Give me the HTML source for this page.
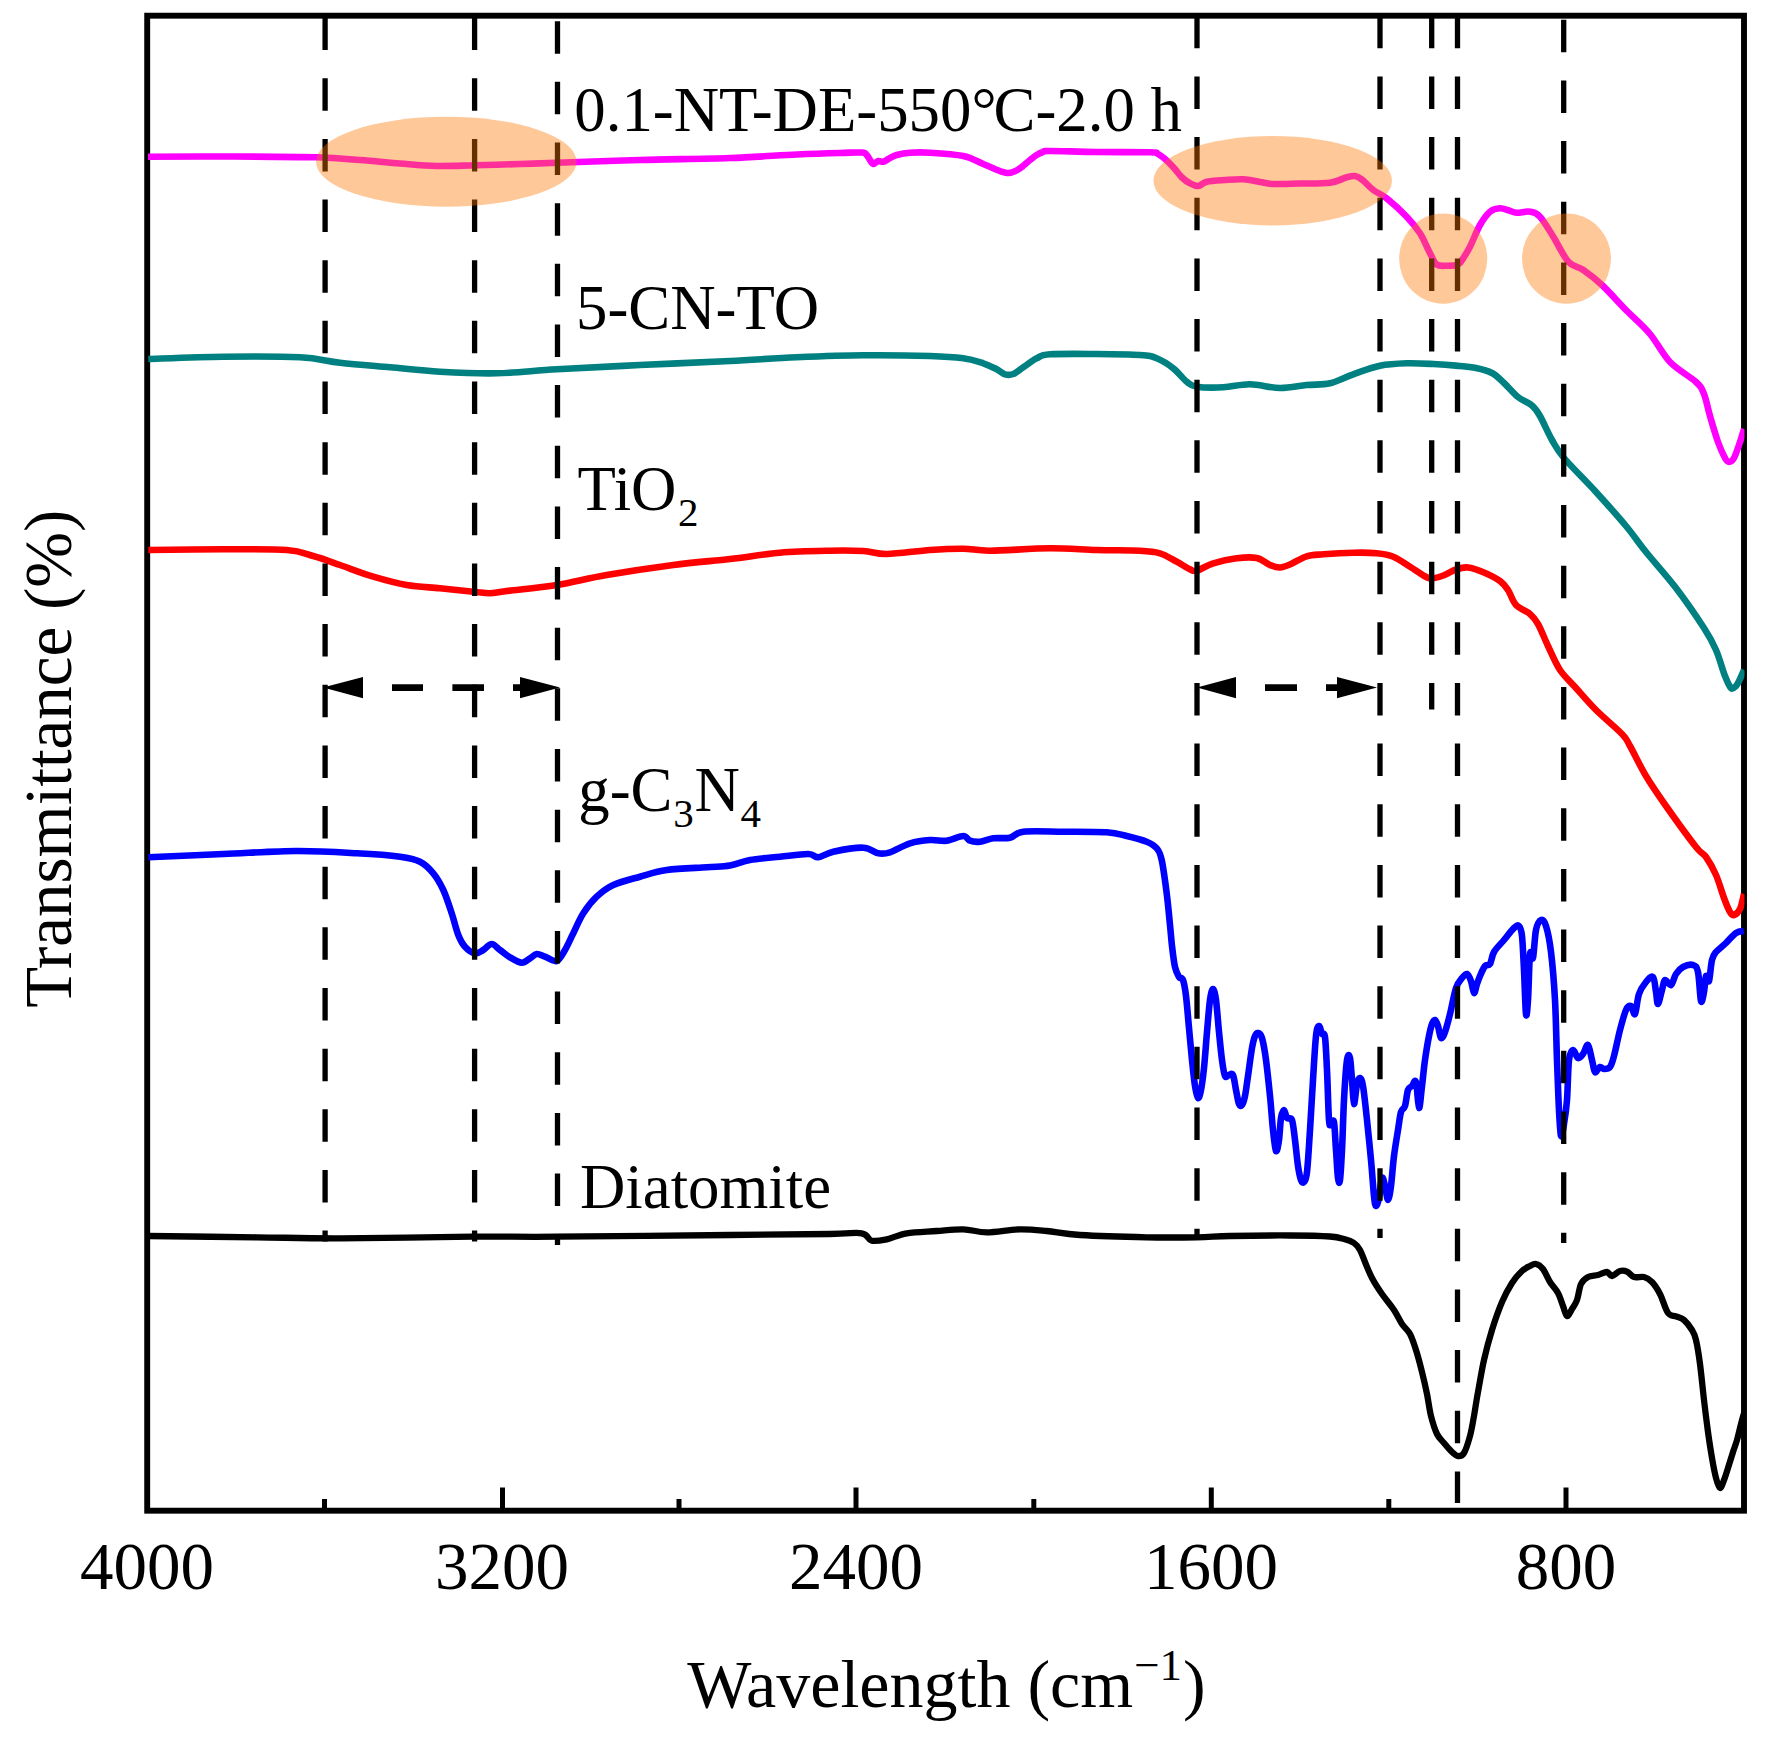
<!DOCTYPE html>
<html lang="en"><head><meta charset="utf-8"><title>FTIR spectra</title>
<style>html,body{margin:0;padding:0;background:#fff}svg{display:block}text{font-family:"Liberation Serif","Noto Serif CJK SC",serif;fill:#000}</style></head><body>
<svg width="1770" height="1739" viewBox="0 0 1770 1739">
<rect width="1770" height="1739" fill="#fff"/>
<defs><clipPath id="cp"><rect x="146.7" y="15.7" width="1597.8" height="1495"/></clipPath></defs>
<g stroke="#000" stroke-width="5.9" fill="none">
<rect x="147.2" y="15.7" width="1596.8" height="1495"/>
</g>
<g stroke="#000" stroke-width="5" fill="none">
<line x1="502.5" y1="1510.7" x2="502.5" y2="1487.5"/>
<line x1="856" y1="1510.7" x2="856" y2="1487.5"/>
<line x1="1211.3" y1="1510.7" x2="1211.3" y2="1487.5"/>
<line x1="1566" y1="1510.7" x2="1566" y2="1487.5"/>
<line x1="324.5" y1="1510.7" x2="324.5" y2="1499"/>
<line x1="679" y1="1510.7" x2="679" y2="1499"/>
<line x1="1033.8" y1="1510.7" x2="1033.8" y2="1499"/>
<line x1="1388.8" y1="1510.7" x2="1388.8" y2="1499"/>
</g>
<g fill="none" stroke-linejoin="round" stroke-linecap="butt" clip-path="url(#cp)">
<path d="M148.0 1236.0C166.1 1236.2 224.7 1236.9 256.7 1237.3C288.7 1237.7 303.9 1238.4 340.0 1238.3C376.1 1238.2 436.9 1237.0 473.0 1236.7C509.1 1236.4 513.9 1237.0 556.7 1236.7C599.5 1236.4 684.5 1235.5 730.0 1235.0C775.5 1234.5 808.0 1234.3 830.0 1234.0C852.0 1233.7 854.8 1232.2 861.7 1233.3C868.7 1234.4 867.5 1239.7 871.7 1240.7C875.9 1241.7 880.9 1240.5 886.7 1239.3C892.5 1238.1 898.4 1234.7 906.7 1233.3C915.0 1231.9 927.3 1231.7 936.7 1231.0C946.1 1230.3 955.0 1229.1 963.3 1229.3C971.6 1229.5 977.2 1232.3 986.7 1232.3C996.2 1232.3 1010.0 1229.5 1020.0 1229.3C1030.0 1229.1 1036.7 1230.0 1046.7 1231.0C1056.7 1232.0 1063.3 1234.0 1080.0 1235.0C1096.7 1236.0 1127.2 1236.9 1146.7 1237.3C1166.2 1237.7 1182.8 1237.5 1196.7 1237.3C1210.6 1237.1 1214.5 1236.3 1230.0 1236.0C1245.5 1235.7 1273.3 1235.4 1290.0 1235.5C1306.7 1235.6 1321.0 1235.9 1330.0 1236.5C1339.0 1237.1 1340.0 1237.9 1344.0 1239.0C1348.0 1240.1 1351.3 1241.2 1354.0 1243.0C1356.7 1244.8 1358.2 1246.8 1360.0 1250.0C1361.8 1253.2 1363.0 1257.3 1365.0 1262.0C1367.0 1266.7 1369.2 1272.7 1372.0 1278.0C1374.8 1283.3 1378.3 1288.7 1382.0 1294.0C1385.7 1299.3 1390.7 1305.0 1394.0 1310.0C1397.3 1315.0 1399.3 1320.0 1402.0 1324.0C1404.7 1328.0 1407.7 1329.7 1410.0 1334.0C1412.3 1338.3 1414.0 1343.7 1416.0 1350.0C1418.0 1356.3 1420.2 1364.7 1422.0 1372.0C1423.8 1379.3 1425.5 1386.7 1427.0 1394.0C1428.5 1401.3 1429.3 1409.3 1431.0 1416.0C1432.7 1422.7 1434.8 1429.5 1437.0 1434.0C1439.2 1438.5 1441.5 1440.0 1444.0 1443.0C1446.5 1446.0 1449.7 1449.8 1452.0 1452.0C1454.3 1454.2 1456.0 1455.8 1458.0 1456.0C1460.0 1456.2 1462.0 1456.3 1464.0 1453.0C1466.0 1449.7 1468.3 1442.2 1470.0 1436.0C1471.7 1429.8 1472.7 1423.3 1474.0 1416.0C1475.3 1408.7 1476.3 1401.3 1478.0 1392.0C1479.7 1382.7 1481.7 1370.3 1484.0 1360.0C1486.3 1349.7 1489.0 1339.7 1492.0 1330.0C1495.0 1320.3 1498.7 1309.8 1502.0 1302.0C1505.3 1294.2 1508.7 1288.2 1512.0 1283.0C1515.3 1277.8 1519.0 1273.8 1522.0 1271.0C1525.0 1268.2 1527.7 1267.2 1530.0 1266.0C1532.3 1264.8 1533.8 1263.5 1536.0 1264.0C1538.2 1264.5 1540.7 1266.0 1543.0 1269.0C1545.3 1272.0 1547.5 1278.0 1550.0 1282.0C1552.5 1286.0 1555.8 1289.0 1558.0 1293.0C1560.2 1297.0 1561.5 1302.2 1563.0 1306.0C1564.5 1309.8 1565.5 1315.5 1567.0 1316.0C1568.5 1316.5 1570.3 1311.7 1572.0 1309.0C1573.7 1306.3 1575.5 1304.2 1577.0 1300.0C1578.5 1295.8 1579.2 1287.8 1581.0 1284.0C1582.8 1280.2 1585.2 1278.5 1588.0 1277.0C1590.8 1275.5 1594.8 1275.8 1598.0 1275.0C1601.2 1274.2 1604.7 1271.8 1607.0 1272.0C1609.3 1272.2 1609.8 1276.2 1612.0 1276.0C1614.2 1275.8 1617.5 1271.7 1620.0 1271.0C1622.5 1270.3 1624.7 1270.6 1627.0 1271.6C1629.3 1272.6 1631.2 1276.1 1634.0 1277.0C1636.8 1277.9 1641.0 1276.2 1644.0 1277.0C1647.0 1277.8 1649.3 1279.2 1652.0 1282.0C1654.7 1284.8 1657.3 1288.8 1660.0 1294.0C1662.7 1299.2 1665.3 1309.3 1668.0 1313.0C1670.7 1316.7 1673.3 1315.2 1676.0 1316.4C1678.7 1317.6 1681.3 1317.7 1684.0 1320.0C1686.7 1322.3 1690.0 1326.7 1692.0 1330.0C1694.0 1333.3 1694.7 1334.3 1696.0 1340.0C1697.3 1345.7 1698.7 1354.0 1700.0 1364.0C1701.3 1374.0 1702.7 1388.7 1704.0 1400.0C1705.3 1411.3 1706.7 1422.3 1708.0 1432.0C1709.3 1441.7 1710.7 1450.3 1712.0 1458.0C1713.3 1465.7 1714.7 1473.0 1716.0 1478.0C1717.3 1483.0 1718.7 1487.7 1720.0 1488.0C1721.3 1488.3 1722.7 1483.3 1724.0 1480.0C1725.3 1476.7 1726.5 1472.7 1728.0 1468.0C1729.5 1463.3 1731.5 1456.7 1733.0 1452.0C1734.5 1447.3 1735.7 1444.7 1737.0 1440.0C1738.3 1435.3 1739.7 1429.0 1741.0 1424.0C1742.3 1419.0 1744.3 1412.3 1745.0 1410.0" stroke="#000" stroke-width="6.3"/>
<path d="M148.3 857.3C160.8 856.8 198.6 855.0 223.3 854.0C248.0 853.0 274.5 851.1 296.7 851.0C318.9 850.9 339.5 852.3 356.7 853.3C373.9 854.2 389.4 855.3 400.0 856.7C410.6 858.1 414.4 858.9 420.0 861.7C425.6 864.5 429.4 868.6 433.3 873.3C437.2 878.0 440.2 883.3 443.3 890.0C446.4 896.7 449.2 905.8 451.7 913.3C454.2 920.8 456.1 929.4 458.3 935.0C460.5 940.6 462.2 943.7 465.0 946.7C467.8 949.8 471.9 952.8 475.0 953.3C478.1 953.8 480.5 951.5 483.3 950.0C486.1 948.5 488.9 944.0 491.7 944.0C494.5 944.0 496.9 947.8 500.0 950.0C503.1 952.2 506.4 955.2 510.0 957.3C513.6 959.4 518.4 962.5 521.7 962.7C525.0 962.9 527.5 959.8 530.0 958.3C532.5 956.8 534.2 954.3 536.7 954.0C539.2 953.7 541.7 955.5 545.0 956.7C548.3 957.9 553.4 962.1 556.7 961.0C560.0 959.9 562.2 954.6 565.0 950.0C567.8 945.4 570.2 939.4 573.3 933.3C576.3 927.2 579.4 919.4 583.3 913.3C587.2 907.2 591.7 901.4 596.7 896.7C601.7 892.0 606.1 888.3 613.3 885.0C620.5 881.7 631.1 879.2 640.0 876.7C648.9 874.2 655.6 871.6 666.7 870.0C677.8 868.4 696.2 868.0 706.7 867.3C717.2 866.5 722.8 866.7 730.0 865.5C737.2 864.3 741.7 861.5 750.0 860.0C758.3 858.5 770.3 857.7 780.0 856.7C789.7 855.7 801.9 853.9 808.3 854.0C814.7 854.1 814.1 857.7 818.3 857.3C822.5 856.9 825.8 853.3 833.3 851.7C840.8 850.1 855.8 847.4 863.3 847.7C870.8 848.0 873.8 852.5 878.3 853.3C882.8 854.1 884.7 854.0 890.0 852.3C895.3 850.6 903.3 845.3 910.0 843.3C916.7 841.2 923.9 840.4 930.0 840.0C936.1 839.6 941.2 841.4 946.7 840.7C952.2 840.0 959.4 836.0 963.3 836.0C967.2 836.0 967.2 839.8 970.0 840.7C972.8 841.7 976.1 842.1 980.0 841.7C983.9 841.3 988.3 839.0 993.3 838.3C998.3 837.6 1005.0 838.8 1010.0 837.7C1015.0 836.6 1014.4 832.7 1023.3 831.7C1032.2 830.7 1049.4 831.6 1063.3 831.7C1077.2 831.8 1096.1 831.6 1106.7 832.3C1117.3 833.0 1120.0 834.4 1126.7 836.0C1133.4 837.6 1141.7 839.7 1146.7 841.7C1151.7 843.8 1154.2 845.2 1156.7 848.3C1159.2 851.3 1160.0 852.5 1161.7 860.0C1163.4 867.5 1165.3 882.5 1166.7 893.3C1168.1 904.1 1169.1 916.2 1170.0 925.0C1170.9 933.8 1171.2 939.0 1172.0 946.0C1172.8 953.0 1173.8 961.8 1175.0 967.0C1176.2 972.2 1177.7 974.8 1179.0 977.0C1180.3 979.2 1181.8 976.8 1183.0 980.0C1184.2 983.2 1185.0 988.0 1186.0 996.0C1187.0 1004.0 1188.0 1017.3 1189.0 1028.0C1190.0 1038.7 1191.0 1050.3 1192.0 1060.0C1193.0 1069.7 1194.0 1079.7 1195.0 1086.0C1196.0 1092.3 1197.0 1097.3 1198.0 1098.0C1199.0 1098.7 1200.0 1095.0 1201.0 1090.0C1202.0 1085.0 1203.0 1077.7 1204.0 1068.0C1205.0 1058.3 1206.0 1043.3 1207.0 1032.0C1208.0 1020.7 1209.0 1007.2 1210.0 1000.0C1211.0 992.8 1212.0 989.0 1213.0 989.0C1214.0 989.0 1215.0 992.8 1216.0 1000.0C1217.0 1007.2 1218.0 1022.0 1219.0 1032.0C1220.0 1042.0 1221.0 1052.7 1222.0 1060.0C1223.0 1067.3 1223.8 1073.5 1225.0 1076.0C1226.2 1078.5 1227.7 1075.2 1229.0 1075.0C1230.3 1074.8 1231.8 1072.5 1233.0 1075.0C1234.2 1077.5 1235.0 1085.2 1236.0 1090.0C1237.0 1094.8 1238.0 1101.5 1239.0 1104.0C1240.0 1106.5 1241.0 1106.3 1242.0 1105.0C1243.0 1103.7 1244.0 1100.8 1245.0 1096.0C1246.0 1091.2 1246.8 1084.0 1248.0 1076.0C1249.2 1068.0 1250.8 1054.7 1252.0 1048.0C1253.2 1041.3 1254.0 1038.5 1255.0 1036.0C1256.0 1033.5 1256.8 1032.7 1258.0 1033.0C1259.2 1033.3 1260.7 1033.5 1262.0 1038.0C1263.3 1042.5 1264.7 1050.3 1266.0 1060.0C1267.3 1069.7 1268.8 1084.3 1270.0 1096.0C1271.2 1107.7 1272.0 1120.8 1273.0 1130.0C1274.0 1139.2 1275.0 1149.3 1276.0 1151.0C1277.0 1152.7 1278.2 1145.5 1279.0 1140.0C1279.8 1134.5 1280.2 1123.0 1281.0 1118.0C1281.8 1113.0 1283.0 1110.0 1284.0 1110.0C1285.0 1110.0 1285.7 1116.3 1287.0 1118.0C1288.3 1119.7 1290.7 1116.3 1292.0 1120.0C1293.3 1123.7 1294.0 1132.3 1295.0 1140.0C1296.0 1147.7 1297.0 1159.3 1298.0 1166.0C1299.0 1172.7 1300.0 1177.3 1301.0 1180.0C1302.0 1182.7 1303.0 1183.3 1304.0 1182.0C1305.0 1180.7 1306.0 1180.7 1307.0 1172.0C1308.0 1163.3 1309.0 1145.3 1310.0 1130.0C1311.0 1114.7 1312.0 1095.7 1313.0 1080.0C1314.0 1064.3 1315.0 1045.0 1316.0 1036.0C1317.0 1027.0 1318.0 1026.3 1319.0 1026.0C1320.0 1025.7 1321.0 1032.2 1322.0 1034.0C1323.0 1035.8 1324.2 1031.0 1325.0 1037.0C1325.8 1043.0 1326.3 1056.2 1327.0 1070.0C1327.7 1083.8 1328.3 1111.0 1329.0 1120.0C1329.7 1129.0 1330.2 1123.7 1331.0 1124.0C1331.8 1124.3 1333.2 1117.7 1334.0 1122.0C1334.8 1126.3 1335.3 1140.7 1336.0 1150.0C1336.7 1159.3 1337.3 1173.0 1338.0 1178.0C1338.7 1183.0 1339.3 1184.7 1340.0 1180.0C1340.7 1175.3 1341.3 1163.3 1342.0 1150.0C1342.7 1136.7 1343.2 1115.0 1344.0 1100.0C1344.8 1085.0 1346.0 1067.0 1347.0 1060.0C1348.0 1053.0 1349.2 1054.7 1350.0 1058.0C1350.8 1061.3 1351.3 1072.3 1352.0 1080.0C1352.7 1087.7 1353.2 1103.3 1354.0 1104.0C1354.8 1104.7 1356.0 1088.3 1357.0 1084.0C1358.0 1079.7 1359.0 1077.7 1360.0 1078.0C1361.0 1078.3 1361.8 1079.0 1363.0 1086.0C1364.2 1093.0 1365.7 1107.7 1367.0 1120.0C1368.3 1132.3 1369.8 1147.3 1371.0 1160.0C1372.2 1172.7 1373.2 1188.3 1374.0 1196.0C1374.8 1203.7 1375.2 1205.7 1376.0 1206.0C1376.8 1206.3 1378.0 1202.7 1379.0 1198.0C1380.0 1193.3 1381.0 1180.0 1382.0 1178.0C1383.0 1176.0 1384.0 1182.3 1385.0 1186.0C1386.0 1189.7 1387.0 1200.0 1388.0 1200.0C1389.0 1200.0 1390.0 1193.3 1391.0 1186.0C1392.0 1178.7 1392.8 1165.3 1394.0 1156.0C1395.2 1146.7 1396.8 1137.3 1398.0 1130.0C1399.2 1122.7 1399.8 1116.0 1401.0 1112.0C1402.2 1108.0 1403.8 1109.7 1405.0 1106.0C1406.2 1102.3 1406.8 1093.3 1408.0 1090.0C1409.2 1086.7 1410.7 1087.3 1412.0 1086.0C1413.3 1084.7 1414.8 1078.3 1416.0 1082.0C1417.2 1085.7 1418.0 1107.3 1419.0 1108.0C1420.0 1108.7 1421.0 1094.0 1422.0 1086.0C1423.0 1078.0 1423.8 1068.3 1425.0 1060.0C1426.2 1051.7 1427.8 1042.0 1429.0 1036.0C1430.2 1030.0 1431.0 1026.7 1432.0 1024.0C1433.0 1021.3 1434.0 1019.7 1435.0 1020.0C1436.0 1020.3 1437.0 1023.0 1438.0 1026.0C1439.0 1029.0 1439.8 1037.0 1441.0 1038.0C1442.2 1039.0 1443.5 1036.0 1445.0 1032.0C1446.5 1028.0 1448.2 1021.3 1450.0 1014.0C1451.8 1006.7 1454.0 994.0 1456.0 988.0C1458.0 982.0 1460.2 980.3 1462.0 978.0C1463.8 975.7 1465.5 973.5 1467.0 974.0C1468.5 974.5 1469.8 977.8 1471.0 981.0C1472.2 984.2 1473.0 992.5 1474.0 993.0C1475.0 993.5 1476.0 986.8 1477.0 984.0C1478.0 981.2 1478.7 979.0 1480.0 976.0C1481.3 973.0 1483.3 968.0 1485.0 966.0C1486.7 964.0 1488.5 966.3 1490.0 964.0C1491.5 961.7 1491.7 956.0 1494.0 952.0C1496.3 948.0 1500.7 944.0 1504.0 940.0C1507.3 936.0 1511.5 930.3 1514.0 928.0C1516.5 925.7 1517.7 924.7 1519.0 926.0C1520.3 927.3 1521.2 928.7 1522.0 936.0C1522.8 943.3 1523.3 957.0 1524.0 970.0C1524.7 983.0 1525.3 1009.0 1526.0 1014.0C1526.7 1019.0 1527.3 1010.0 1528.0 1000.0C1528.7 990.0 1529.2 961.0 1530.0 954.0C1530.8 947.0 1532.0 962.0 1533.0 958.0C1534.0 954.0 1534.7 936.3 1536.0 930.0C1537.3 923.7 1539.3 920.7 1541.0 920.0C1542.7 919.3 1544.3 920.7 1546.0 926.0C1547.7 931.3 1549.5 939.7 1551.0 952.0C1552.5 964.3 1554.0 982.0 1555.0 1000.0C1556.0 1018.0 1556.3 1041.7 1557.0 1060.0C1557.7 1078.3 1558.3 1097.3 1559.0 1110.0C1559.7 1122.7 1560.2 1133.7 1561.0 1136.0C1561.8 1138.3 1563.0 1130.0 1564.0 1124.0C1565.0 1118.0 1566.2 1110.7 1567.0 1100.0C1567.8 1089.3 1568.0 1068.3 1569.0 1060.0C1570.0 1051.7 1571.5 1050.3 1573.0 1050.0C1574.5 1049.7 1576.3 1057.3 1578.0 1058.0C1579.7 1058.7 1581.3 1056.2 1583.0 1054.0C1584.7 1051.8 1586.5 1044.0 1588.0 1045.0C1589.5 1046.0 1590.8 1055.5 1592.0 1060.0C1593.2 1064.5 1593.7 1070.8 1595.0 1072.0C1596.3 1073.2 1598.5 1067.5 1600.0 1067.0C1601.5 1066.5 1602.3 1069.0 1604.0 1069.0C1605.7 1069.0 1608.3 1069.2 1610.0 1067.0C1611.7 1064.8 1612.3 1062.2 1614.0 1056.0C1615.7 1049.8 1618.0 1037.7 1620.0 1030.0C1622.0 1022.3 1624.2 1014.0 1626.0 1010.0C1627.8 1006.0 1629.5 1005.3 1631.0 1006.0C1632.5 1006.7 1633.7 1016.0 1635.0 1014.0C1636.3 1012.0 1637.2 999.3 1639.0 994.0C1640.8 988.7 1643.7 984.8 1646.0 982.0C1648.3 979.2 1651.3 975.3 1653.0 977.0C1654.7 978.7 1655.2 987.5 1656.0 992.0C1656.8 996.5 1657.0 1004.3 1658.0 1004.0C1659.0 1003.7 1660.8 994.0 1662.0 990.0C1663.2 986.0 1663.5 980.8 1665.0 980.0C1666.5 979.2 1669.2 986.0 1671.0 985.0C1672.8 984.0 1674.0 977.0 1676.0 974.0C1678.0 971.0 1680.2 968.5 1683.0 967.0C1685.8 965.5 1690.5 964.2 1693.0 965.0C1695.5 965.8 1696.7 966.0 1698.0 972.0C1699.3 978.0 1700.0 997.7 1701.0 1001.0C1702.0 1004.3 1703.2 996.2 1704.0 992.0C1704.8 987.8 1705.2 977.8 1706.0 976.0C1706.8 974.2 1708.0 983.7 1709.0 981.0C1710.0 978.3 1710.8 964.8 1712.0 960.0C1713.2 955.2 1713.7 954.8 1716.0 952.0C1718.3 949.2 1722.7 946.2 1726.0 943.0C1729.3 939.8 1733.0 935.0 1736.0 933.0C1739.0 931.0 1742.7 931.3 1744.0 931.0" stroke="#0000ff" stroke-width="6.6"/>
<path d="M148.3 550.0C160.8 549.9 200.2 549.3 223.3 549.3C246.4 549.3 271.7 548.9 286.7 550.0C301.7 551.1 304.4 553.5 313.3 556.0C322.2 558.5 330.0 561.5 340.0 565.0C350.0 568.5 362.2 573.4 373.3 576.7C384.4 580.0 395.6 583.1 406.7 585.0C417.8 586.9 428.9 587.2 440.0 588.3C451.1 589.4 465.0 590.9 473.3 591.7C481.6 592.5 484.4 593.4 490.0 593.3C495.6 593.2 495.6 592.4 506.7 591.0C517.8 589.6 540.0 587.7 556.7 585.0C573.4 582.3 587.3 578.3 606.7 575.0C626.1 571.7 652.8 567.7 673.3 565.0C693.8 562.3 712.2 561.0 730.0 559.0C747.8 557.0 763.3 554.1 780.0 552.7C796.7 551.3 816.1 551.0 830.0 550.7C843.9 550.4 853.8 550.5 863.3 551.0C872.8 551.5 875.6 554.2 886.7 554.0C897.8 553.8 917.2 550.9 930.0 550.0C942.8 549.1 953.3 548.6 963.3 548.7C973.3 548.8 975.5 550.8 990.0 550.7C1004.5 550.6 1032.2 548.4 1050.0 548.3C1067.8 548.2 1081.7 549.6 1096.7 550.0C1111.7 550.4 1129.5 550.2 1140.0 550.7C1150.5 551.2 1153.9 551.5 1160.0 553.3C1166.1 555.1 1171.7 559.0 1176.7 561.7C1181.7 564.4 1186.7 567.8 1190.0 569.3C1193.3 570.8 1192.8 571.7 1196.7 570.7C1200.6 569.7 1206.6 565.4 1213.3 563.3C1220.0 561.2 1229.5 559.2 1236.7 558.3C1243.9 557.4 1251.2 556.9 1256.7 558.0C1262.2 559.1 1266.1 563.4 1270.0 565.0C1273.9 566.6 1276.5 567.7 1280.0 567.5C1283.5 567.3 1286.5 565.9 1291.0 564.0C1295.5 562.1 1301.3 557.9 1306.7 556.3C1312.1 554.7 1315.5 554.9 1323.3 554.3C1331.1 553.7 1344.4 552.9 1353.3 552.7C1362.2 552.5 1370.0 552.6 1376.7 553.3C1383.4 554.0 1387.8 554.5 1393.3 556.7C1398.8 558.9 1404.4 563.3 1410.0 566.7C1415.6 570.1 1422.8 575.4 1426.7 577.3C1430.6 579.2 1430.4 578.6 1433.3 578.3C1436.2 578.0 1440.2 576.8 1444.0 575.3C1447.8 573.8 1452.0 570.8 1456.0 569.5C1460.0 568.2 1463.3 567.0 1468.0 567.5C1472.7 568.0 1478.7 570.2 1484.0 572.5C1489.3 574.8 1496.0 578.1 1500.0 581.0C1504.0 583.9 1505.3 586.0 1508.0 590.0C1510.7 594.0 1512.3 601.0 1516.0 605.0C1519.7 609.0 1526.3 610.8 1530.0 614.0C1533.7 617.2 1535.0 618.7 1538.0 624.0C1541.0 629.3 1544.3 638.3 1548.0 646.0C1551.7 653.7 1555.3 663.0 1560.0 670.0C1564.7 677.0 1570.0 681.3 1576.0 688.0C1582.0 694.7 1588.3 702.3 1596.0 710.0C1603.7 717.7 1616.3 728.0 1622.0 734.0C1627.7 740.0 1626.0 739.0 1630.0 746.0C1634.0 753.0 1640.0 766.0 1646.0 776.0C1652.0 786.0 1657.7 794.2 1666.0 806.0C1674.3 817.8 1689.3 838.5 1696.0 847.0C1702.7 855.5 1702.7 852.3 1706.0 857.0C1709.3 861.7 1713.0 868.2 1716.0 875.0C1719.0 881.8 1721.7 891.8 1724.0 898.0C1726.3 904.2 1728.3 909.2 1730.0 912.0C1731.7 914.8 1732.3 915.5 1734.0 915.0C1735.7 914.5 1738.3 912.5 1740.0 909.0C1741.7 905.5 1743.3 896.5 1744.0 894.0" stroke="#ff0000" stroke-width="6.6"/>
<path d="M148.3 359.0C160.8 358.6 198.0 357.0 223.3 356.7C248.6 356.4 280.6 356.3 300.0 357.3C319.4 358.3 325.0 361.0 340.0 362.7C355.0 364.4 373.3 365.8 390.0 367.3C406.7 368.8 422.2 370.7 440.0 371.7C457.8 372.7 477.2 373.7 496.7 373.3C516.1 372.9 532.8 370.7 556.7 369.3C580.6 367.9 611.1 366.4 640.0 365.0C668.9 363.6 703.9 362.3 730.0 361.0C756.1 359.7 774.5 358.2 796.7 357.3C818.9 356.4 841.1 355.5 863.3 355.3C885.5 355.1 913.3 355.5 930.0 356.0C946.7 356.5 954.4 357.1 963.3 358.3C972.2 359.5 977.7 361.5 983.3 363.3C988.9 365.1 993.1 367.5 996.7 369.3C1000.3 371.1 1002.2 373.5 1005.0 374.3C1007.8 375.1 1010.2 375.2 1013.3 374.0C1016.3 372.8 1019.4 369.9 1023.3 367.3C1027.2 364.7 1032.2 360.5 1036.7 358.3C1041.2 356.1 1040.0 355.0 1050.0 354.3C1060.0 353.6 1081.7 353.9 1096.7 354.0C1111.7 354.1 1130.0 354.3 1140.0 355.0C1150.0 355.7 1151.2 356.1 1156.7 358.3C1162.2 360.5 1168.3 364.4 1173.3 368.3C1178.3 372.2 1182.8 378.6 1186.7 381.7C1190.6 384.8 1190.6 385.8 1196.7 386.7C1202.8 387.6 1214.4 387.7 1223.3 387.3C1232.2 386.9 1240.5 384.2 1250.0 384.3C1259.5 384.4 1270.5 387.9 1280.0 388.0C1289.5 388.1 1298.4 385.8 1306.7 385.0C1315.0 384.2 1322.2 385.1 1330.0 383.3C1337.8 381.5 1345.0 377.2 1353.3 374.3C1361.6 371.4 1371.1 367.5 1380.0 365.7C1388.9 363.9 1397.8 363.6 1406.7 363.3C1415.6 363.0 1425.1 363.6 1433.3 364.0C1441.5 364.4 1448.9 364.9 1456.0 365.6C1463.1 366.3 1470.0 366.8 1476.0 368.0C1482.0 369.2 1487.3 370.5 1492.0 373.0C1496.7 375.5 1499.7 379.0 1504.0 383.0C1508.3 387.0 1513.3 393.2 1518.0 397.0C1522.7 400.8 1528.3 402.3 1532.0 405.5C1535.7 408.7 1536.7 410.2 1540.0 416.0C1543.3 421.8 1548.0 433.0 1552.0 440.0C1556.0 447.0 1556.7 449.3 1564.0 458.0C1571.3 466.7 1585.7 480.7 1596.0 492.0C1606.3 503.3 1617.7 516.0 1626.0 526.0C1634.3 536.0 1637.7 541.7 1646.0 552.0C1654.3 562.3 1666.3 575.3 1676.0 588.0C1685.7 600.7 1697.3 617.7 1704.0 628.0C1710.7 638.3 1712.5 642.0 1716.0 650.0C1719.5 658.0 1722.5 669.7 1725.0 676.0C1727.5 682.3 1729.2 686.3 1731.0 688.0C1732.8 689.7 1734.5 687.5 1736.0 686.0C1737.5 684.5 1738.7 681.7 1740.0 679.0C1741.3 676.3 1743.3 671.5 1744.0 670.0" stroke="#008080" stroke-width="6.6"/>
<path d="M148.0 156.7C161.7 156.7 201.9 156.4 230.0 156.5C258.1 156.6 295.0 156.7 316.7 157.3C338.4 157.9 346.1 159.0 360.0 160.0C373.9 161.0 387.2 162.5 400.0 163.5C412.8 164.5 424.2 165.7 436.7 166.0C449.2 166.3 461.1 165.6 475.0 165.3C488.9 165.0 506.4 164.4 520.0 164.0C533.6 163.6 536.7 163.4 556.7 162.7C576.7 162.0 611.1 160.8 640.0 160.0C668.9 159.2 703.9 158.9 730.0 158.0C756.1 157.1 778.4 155.3 796.7 154.5C815.0 153.7 829.1 153.3 840.0 153.0C850.9 152.7 857.5 152.2 862.0 152.5C866.5 152.8 865.4 153.8 866.7 155.0C868.0 156.2 868.9 158.5 870.0 160.0C871.1 161.5 871.9 163.8 873.3 164.0C874.7 164.2 876.6 161.4 878.3 161.0C880.0 160.6 881.3 162.2 883.3 161.7C885.2 161.2 887.8 159.1 890.0 158.0C892.2 156.9 893.4 155.9 896.7 155.0C900.0 154.1 904.5 153.1 910.0 152.7C915.5 152.3 921.1 152.1 930.0 152.7C938.9 153.2 954.4 154.1 963.3 156.0C972.2 157.9 976.9 161.4 983.3 164.0C989.7 166.6 997.6 170.2 1001.7 171.7C1005.8 173.2 1006.1 172.9 1008.0 173.0C1009.9 173.1 1011.0 172.8 1013.0 172.0C1015.0 171.2 1017.2 170.3 1020.0 168.3C1022.8 166.3 1027.2 162.2 1030.0 160.0C1032.8 157.8 1034.5 156.3 1036.7 155.0C1038.9 153.7 1040.8 152.7 1043.0 152.0C1045.2 151.3 1041.0 151.0 1050.0 151.0C1059.0 151.0 1080.0 151.8 1096.7 152.0C1113.4 152.2 1139.8 152.0 1150.0 152.3C1160.2 152.6 1155.5 152.9 1158.0 154.0C1160.5 155.1 1162.3 156.7 1165.0 159.0C1167.7 161.3 1171.2 164.9 1174.0 168.0C1176.8 171.1 1179.3 174.9 1182.0 177.5C1184.7 180.1 1187.3 181.9 1190.0 183.3C1192.7 184.7 1195.5 186.3 1198.3 186.0C1201.1 185.7 1202.2 182.7 1206.7 181.7C1211.2 180.7 1218.9 180.4 1225.0 180.0C1231.1 179.6 1237.5 179.0 1243.3 179.3C1249.1 179.6 1255.0 181.2 1260.0 182.0C1265.0 182.8 1266.6 183.8 1273.3 184.0C1280.0 184.2 1290.5 183.7 1300.0 183.5C1309.5 183.3 1322.2 183.7 1330.0 182.7C1337.8 181.7 1342.5 178.4 1346.7 177.3C1350.9 176.2 1352.5 175.7 1355.0 176.0C1357.5 176.3 1358.7 177.0 1361.7 179.3C1364.8 181.6 1369.1 186.8 1373.3 190.0C1377.5 193.2 1381.1 193.9 1386.7 198.3C1392.3 202.8 1401.2 210.9 1406.7 216.7C1412.2 222.5 1416.1 227.2 1420.0 233.3C1423.9 239.4 1427.2 248.1 1430.0 253.3C1432.8 258.5 1433.9 262.4 1436.7 264.5C1439.5 266.6 1443.2 265.7 1446.7 265.7C1450.2 265.7 1455.1 265.9 1458.0 264.5C1460.9 263.1 1462.0 260.0 1464.0 257.0C1466.0 254.0 1467.3 252.0 1470.0 246.7C1472.7 241.4 1476.7 230.8 1480.0 225.0C1483.3 219.2 1486.7 214.5 1490.0 211.7C1493.3 208.9 1496.8 208.5 1500.0 208.3C1503.2 208.1 1506.2 209.8 1509.0 210.5C1511.8 211.2 1513.2 212.5 1516.7 212.7C1520.2 212.9 1526.1 211.0 1530.0 211.7C1533.9 212.4 1536.1 212.5 1540.0 216.7C1543.9 220.9 1548.6 229.2 1553.3 236.7C1558.0 244.2 1563.3 256.1 1568.3 261.7C1573.3 267.2 1577.7 266.1 1583.3 270.0C1588.9 273.9 1594.9 278.3 1602.0 285.0C1609.1 291.7 1618.0 301.8 1626.0 310.0C1634.0 318.2 1642.7 325.3 1650.0 334.0C1657.3 342.7 1662.3 354.0 1670.0 362.0C1677.7 370.0 1690.3 376.7 1696.0 382.0C1701.7 387.3 1701.7 388.3 1704.0 394.0C1706.3 399.7 1707.7 408.0 1710.0 416.0C1712.3 424.0 1715.5 435.0 1718.0 442.0C1720.5 449.0 1723.2 454.7 1725.0 458.0C1726.8 461.3 1727.5 462.0 1729.0 462.0C1730.5 462.0 1732.2 461.3 1734.0 458.0C1735.8 454.7 1738.3 446.8 1740.0 442.0C1741.7 437.2 1743.3 431.2 1744.0 429.0" stroke="#ff00ff" stroke-width="6.6"/>
</g>
<g stroke="#000" stroke-width="5.3" stroke-dasharray="32.5 28.15" fill="none">
<line x1="325.1" y1="17.6" x2="325.1" y2="1241.5"/>
<line x1="474.6" y1="17.6" x2="474.6" y2="1241.5"/>
<line x1="557.5" y1="21.2" x2="557.5" y2="1245"/>
<line x1="1197" y1="15.8" x2="1197" y2="1240"/>
<line x1="1380" y1="15.8" x2="1380" y2="1238"/>
<line x1="1431.7" y1="15.8" x2="1431.7" y2="709.6"/>
<line x1="1457.5" y1="15.8" x2="1457.5" y2="1503"/>
<line x1="1563.7" y1="19.8" x2="1563.7" y2="1243"/>
</g>
<g stroke="#000" stroke-width="6.8" fill="none">
<path d="M392 687.6H423M452.4 687.6H484M513 687.6H525"/>
<path d="M1265 687.6H1297M1326 687.6H1340"/>
</g>
<g fill="#000">
<polygon points="323,687.6 363,677 363,698.2"/>
<polygon points="560,687.6 520,677 520,698.2"/>
<polygon points="1197,687.6 1236,677 1236,698.2"/>
<polygon points="1377,687.6 1337,677 1337,698.2"/>
</g>
<g fill="#ff7600" fill-opacity="0.4">
<ellipse cx="446.3" cy="161.7" rx="130.3" ry="45"/>
<ellipse cx="1272.7" cy="180.7" rx="119.3" ry="44.7"/>
<ellipse cx="1443.2" cy="258.6" rx="44.1" ry="45.2"/>
<ellipse cx="1566.5" cy="258.6" rx="44.5" ry="45.2"/>
</g>
<g font-size="62.8">
<text x="574.3" y="130.7">0.1-NT-DE-550°<tspan dx="-3">C</tspan>-2.0 h</text>
<text x="576" y="329">5-CN-TO</text>
<text x="577.5" y="510.3">TiO<tspan font-size="41" dy="16" dx="1.5">2</tspan></text>
<text x="578.3" y="810.8">g-C<tspan font-size="41" dy="16" dx="0.7">3</tspan><tspan dy="-16" dx="0.7">N</tspan><tspan font-size="41" dy="16" dx="0.7">4</tspan></text>
<text x="580" y="1207.6">Diatomite</text>
</g>
<g font-size="67" text-anchor="middle">
<text x="147" y="1588.8">4000</text>
<text x="502" y="1588.8">3200</text>
<text x="856" y="1588.8">2400</text>
<text x="1211" y="1588.8">1600</text>
<text x="1566" y="1588.8">800</text>
<text x="946.5" y="1707" font-size="68">Wavelength (cm<tspan font-size="45" dy="-27.5" dx="1">−1</tspan><tspan dy="27.5" dx="1">)</tspan></text>
<text transform="translate(70.6 758.6) rotate(-90)" x="0" y="0">Transmittance (%)</text>
</g>
</svg></body></html>
